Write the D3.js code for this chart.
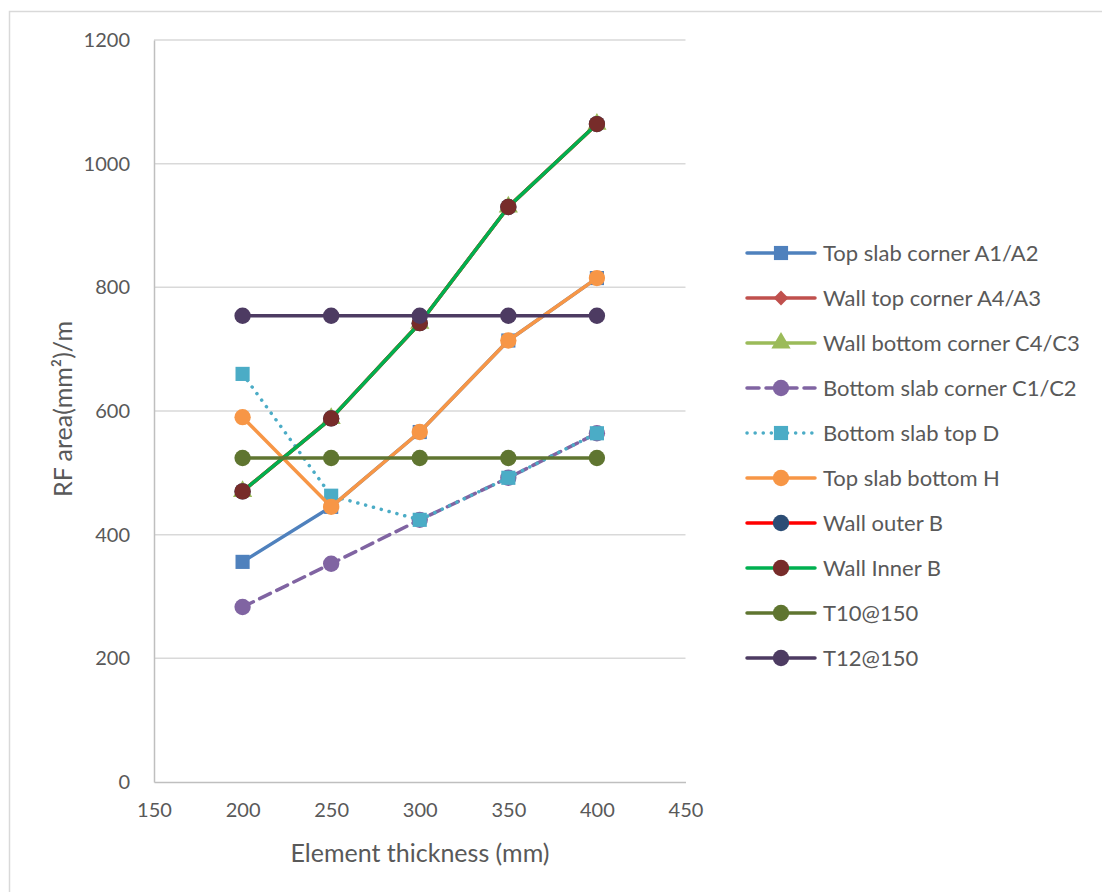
<!DOCTYPE html>
<html>
<head>
<meta charset="utf-8">
<script src="https://cdn.jsdelivr.net/npm/d3@7"></script>
<style>
  html, body { margin: 0; padding: 0; background: #fff; }
  svg { display: block; }
  text { font-family: Lato, "Open Sans", sans-serif; fill: #595959; }
</style>
</head>
<body>
<svg id="chart" width="1102" height="892"></svg>
<script>
// Element thickness (mm)
const thickness = [200, 250, 300, 350, 400];

// Reinforcement area (mm²/m) per series
const topSlabCorner    = [356, 445, 566, 714, 815];
const wallTopCorner    = [470, 588, 742, 930, 1064];
const wallBottomCorner = [470, 588, 742, 930, 1064];
const bottomSlabCorner = [283, 353, 424, 492, 564];
const bottomSlabTopD   = [660, 463, 424, 492, 564];
const topSlabBottomH   = [590, 445, 566, 714, 815];
const wallOuterB       = [470, 588, 742, 930, 1064];
const wallInnerB       = [470, 588, 742, 930, 1064];
const t10at150         = [524, 524, 524, 524, 524];
const t12at150         = [754, 754, 754, 754, 754];

const xTicks = [150, 200, 250, 300, 350, 400, 450];
const yTicks = [0, 200, 400, 600, 800, 1000, 1200];

const seriesNames = [
  "Top slab corner A1/A2", "Wall top corner A4/A3", "Wall bottom corner C4/C3",
  "Bottom slab corner C1/C2", "Bottom slab top D", "Top slab bottom H",
  "Wall outer B", "Wall Inner B", "T10@150", "T12@150"
];
const seriesValues = [
  topSlabCorner, wallTopCorner, wallBottomCorner, bottomSlabCorner, bottomSlabTopD,
  topSlabBottomH, wallOuterB, wallInnerB, t10at150, t12at150
];

// Styling per series: line colour, marker colour, marker shape, dash pattern
const styles = [
  { line: "#4F81BD", mark: "#4F81BD", shape: "square", dash: null },
  { line: "#C0504D", mark: "#C0504D", shape: "diamond", dash: null },
  { line: "#9BBB59", mark: "#9BBB59", shape: "triangle", dash: null },
  { line: "#8064A2", mark: "#8064A2", shape: "circle", dash: "12,7" },
  { line: "#4BACC6", mark: "#4BACC6", shape: "square", dash: "0.1,8" },
  { line: "#F79646", mark: "#F79646", shape: "circle", dash: null },
  { line: "#FF0000", mark: "#2C4D75", shape: "circle", dash: null },
  { line: "#00B050", mark: "#772C2A", shape: "circle", dash: null },
  { line: "#5F7530", mark: "#5F7530", shape: "circle", dash: null },
  { line: "#4D3B62", mark: "#4D3B62", shape: "circle", dash: null }
];

const svg = d3.select("#chart");

// Outer chart border
svg.append("rect")
  .attr("x", 9.5).attr("y", 11.5)
  .attr("width", 1200).attr("height", 1000)
  .attr("fill", "none").attr("stroke", "#d9d9d9").attr("stroke-width", 1.5);

const x = d3.scaleLinear().domain([150, 450]).range([154, 685.5]);
const y = d3.scaleLinear().domain([0, 1200]).range([782, 40]);

// Horizontal gridlines
svg.append("g")
  .selectAll("line")
  .data(yTicks.filter(d => d > 0))
  .join("line")
  .attr("x1", x(150)).attr("x2", x(450))
  .attr("y1", d => y(d)).attr("y2", d => y(d))
  .attr("stroke", "#d9d9d9").attr("stroke-width", 1.5);

// Axes
const xAxis = svg.append("g")
  .attr("transform", `translate(0,${y(0)})`)
  .call(d3.axisBottom(x).tickValues(xTicks).tickSize(0).tickPadding(21).tickFormat(d3.format("d")));
const yAxis = svg.append("g")
  .attr("transform", `translate(${x(150)},0)`)
  .call(d3.axisLeft(y).tickValues(yTicks).tickSize(0).tickPadding(24).tickFormat(d3.format("d")));
[xAxis, yAxis].forEach(g => {
  g.select(".domain").attr("stroke", "#bfbfbf").attr("stroke-width", 1.5);
  g.selectAll("text").style("font-size", "20px").style("font-family", "Lato, sans-serif").attr("fill", "#595959");
});

// Axis titles
svg.append("text")
  .attr("x", 420).attr("y", 862)
  .attr("text-anchor", "middle")
  .style("font-size", "25px")
  .text("Element thickness (mm)");
svg.append("text")
  .attr("transform", "translate(72,409) rotate(-90)")
  .attr("text-anchor", "middle")
  .style("font-size", "25px")
  .text("RF area(mm²)/m");

const symbolFor = shape => ({
  square: d3.symbolSquare, diamond: d3.symbolSquare,
  triangle: d3.symbolTriangle, circle: d3.symbolCircle
})[shape];
const sizeFor = shape => ({ square: 200, diamond: 110, triangle: 160, circle: 210 })[shape];
const rotFor = shape => shape === "diamond" ? 45 : 0;

const line = d3.line().x((d, i) => x(thickness[i])).y(d => y(d));

const plot = svg.append("g");
seriesValues.forEach((vals, si) => {
  const st = styles[si];
  const g = plot.append("g");
  g.append("path")
    .datum(vals)
    .attr("d", line)
    .attr("fill", "none")
    .attr("stroke", st.line)
    .attr("stroke-width", 3.5)
    .attr("stroke-linecap", "round")
    .attr("stroke-linejoin", "round")
    .attr("stroke-dasharray", st.dash);
  g.selectAll("path.m")
    .data(vals)
    .join("path")
    .attr("class", "m")
    .attr("transform", (d, i) => `translate(${x(thickness[i])},${y(d)}) rotate(${rotFor(st.shape)})`)
    .attr("d", d3.symbol().type(symbolFor(st.shape)).size(sizeFor(st.shape)))
    .attr("fill", st.mark);
});

// Legend
const legend = svg.append("g");
const legY = d3.scalePoint().domain(seriesNames).range([253, 658]);
seriesNames.forEach((name, si) => {
  const st = styles[si];
  const ly = legY(name);
  legend.append("line")
    .attr("x1", 747).attr("x2", 815)
    .attr("y1", ly).attr("y2", ly)
    .attr("stroke", st.line).attr("stroke-width", 3.5)
    .attr("stroke-linecap", "round")
    .attr("stroke-dasharray", st.dash);
  legend.append("path")
    .attr("transform", `translate(781,${ly}) rotate(${rotFor(st.shape)})`)
    .attr("d", d3.symbol().type(symbolFor(st.shape)).size(sizeFor(st.shape)))
    .attr("fill", st.mark);
  legend.append("text")
    .attr("x", 823).attr("y", ly)
    .attr("dy", "0.35em")
    .style("font-size", "22px")
    .text(name);
});
</script>
</body>
</html>
